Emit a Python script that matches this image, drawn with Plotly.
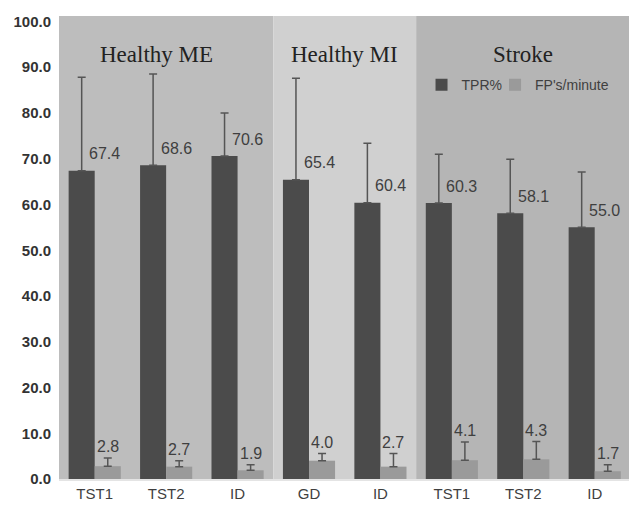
import plotly.graph_objects as go

categories = ["TST1", "TST2", "ID", "GD", "ID", "TST1", "TST2", "ID"]
groups = ["Healthy ME", "Healthy MI", "Stroke"]
group_sizes = [3, 2, 3]
tpr = [67.4, 68.6, 70.6, 65.4, 60.4, 60.3, 58.1, 55.0]
tpr_err = [20.4, 19.9, 9.4, 22.2, 13.0, 10.7, 11.8, 12.1]
fp = [2.8, 2.7, 1.9, 4.0, 2.7, 4.1, 4.3, 1.7]
fp_err = [1.8, 1.3, 1.2, 1.6, 2.9, 4.0, 3.9, 1.4]
y_ticks = [0, 10, 20, 30, 40, 50, 60, 70, 80, 90, 100]

group_colors = ["#bdbdbd", "#d0d0d0", "#b5b5b5"]
xs = list(range(len(categories)))
TXT = "#3f3f3f"
SANS = "Liberation Sans"

fig = go.Figure()
fig.add_trace(go.Bar(
    x=xs, y=tpr, name="TPR%", legend="legend",
    marker=dict(color="#4b4b4b", line=dict(width=0)),
    error_y=dict(type="data", symmetric=False, array=tpr_err, arrayminus=[0]*len(tpr),
                 color="#555555", thickness=1.5, width=4),
))
fig.add_trace(go.Bar(
    x=xs, y=fp, name="FP's/minute", legend="legend2",
    marker=dict(color="#9a9a9a", line=dict(width=0)),
    error_y=dict(type="data", symmetric=False, array=fp_err, arrayminus=[0]*len(fp),
                 color="#555555", thickness=1.5, width=4),
))

# background group shading and titles
start = 0
for g, n, c in zip(groups, group_sizes, group_colors):
    x0 = start - 0.5
    x1 = start + n - 0.5
    fig.add_shape(type="rect", xref="x", yref="y", x0=x0, x1=x1, y0=0, y1=101.2,
                  fillcolor=c, line=dict(width=0), layer="below")
    fig.add_annotation(x=(x0 + x1) / 2, y=0.948, xref="x", yref="paper",
                       text=g, showarrow=False,
                       xshift=-10 if g == "Healthy ME" else 0,
                       font=dict(family="Liberation Serif", size=23, color="#222222"))
    start += n

for i in xs:
    fig.add_annotation(x=i, y=tpr[i], text=f"{tpr[i]:.1f}", showarrow=False,
                       xshift=10, yshift=17,
                       font=dict(family=SANS, size=16, color=TXT))
    fig.add_annotation(x=i, y=fp[i] + fp_err[i], text=f"{fp[i]:.1f}", showarrow=False,
                       xshift=13, yshift=11,
                       font=dict(family=SANS, size=16, color=TXT))

legend_style = dict(orientation="h", y=0.885, xanchor="left", yanchor="top",
                    bgcolor="rgba(0,0,0,0)", font=dict(family=SANS, size=14, color=TXT),
                    itemwidth=30)

fig.update_layout(
    width=629, height=505,
    margin=dict(l=59, r=0, t=16, b=26, autoexpand=False),
    paper_bgcolor="white", plot_bgcolor="white",
    barmode="group", bargap=0.27, bargroupgap=0,
    showlegend=True,
    legend=dict(x=0.636, **legend_style),
    legend2=dict(x=0.765, **legend_style),
    xaxis=dict(range=[-0.5, 7.48], tickmode="array", tickvals=xs, ticktext=categories,
               showgrid=False, zeroline=False, showline=True, linecolor="#e4e4e4", linewidth=2,
               ticks="", automargin=False,
               tickfont=dict(family=SANS, size=15, color=TXT)),
    yaxis=dict(range=[0, 101.2], tickmode="array", tickvals=y_ticks,
               ticktext=[f"{v:.1f}" for v in y_ticks],
               showgrid=False, zeroline=False, showline=False, automargin=False,
               ticks="outside", ticklen=4, tickcolor="rgba(0,0,0,0)",
               tickfont=dict(family=SANS, size=15, color="#333333", weight="bold")),
)

fig.write_html("out.html", config={"displayModeBar": False},
               post_script="document.body.style.margin='0';")
